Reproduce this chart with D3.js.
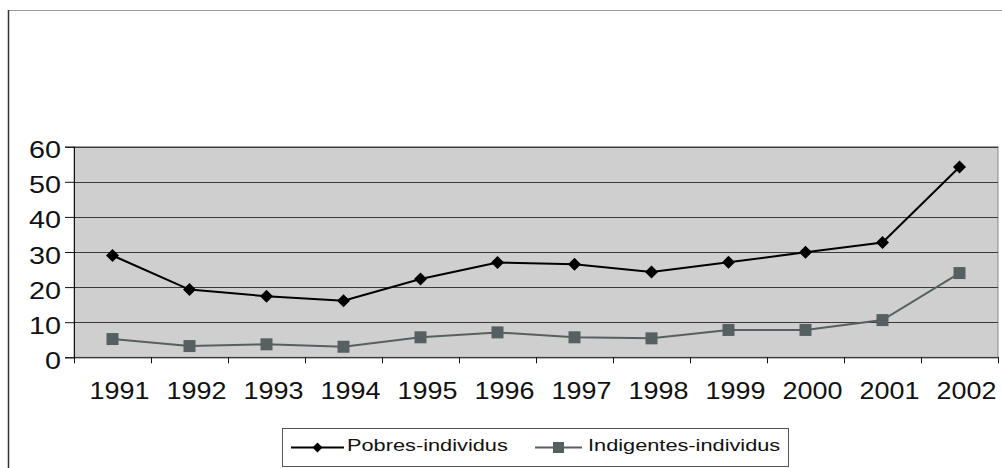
<!DOCTYPE html>
<html>
<head>
<meta charset="utf-8">
<script src="https://cdn.jsdelivr.net/npm/d3@7"></script>
<style>
  html, body { margin: 0; padding: 0; background: #fff; }
  svg { display: block; }
  text { font-family: "Liberation Sans", Arial, sans-serif; fill: #111; }
</style>
</head>
<body>
<svg id="chart" width="1002" height="468"></svg>
<script>
const years = ["1991","1992","1993","1994","1995","1996","1997","1998","1999","2000","2001","2002"];
const pobres = [29, 19.3, 17.4, 16.1, 22.3, 27, 26.5, 24.3, 27.1, 29.9, 32.7, 54.2];
const indigentes = [5.2, 3.2, 3.7, 3.0, 5.7, 7.1, 5.7, 5.4, 7.8, 7.8, 10.6, 24.0];
const yTicks = [0, 10, 20, 30, 40, 50, 60];
const seriesNames = ["Pobres-individus", "Indigentes-individus"];

const svg = d3.select("#chart");
const W = 1002, H = 468;
const plot = { left: 74, right: 998, top: 146.7, bottom: 357.3 };

const x = d3.scaleBand().domain(years).range([plot.left, plot.right]).paddingInner(0).paddingOuter(0);
const y = d3.scaleLinear().domain([0, 60]).range([plot.bottom, plot.top]);

// outer chart border
svg.append("line").attr("x1", 8.5).attr("x2", W).attr("y1", 10.5).attr("y2", 10.5)
  .attr("stroke", "#999").attr("stroke-width", 1);
svg.append("line").attr("x1", 8.5).attr("x2", 8.5).attr("y1", 10).attr("y2", H)
  .attr("stroke", "#333").attr("stroke-width", 1.5);

// plot background
svg.append("rect")
  .attr("x", plot.left).attr("y", plot.top)
  .attr("width", plot.right - plot.left).attr("height", plot.bottom - plot.top)
  .attr("fill", "#cfcfcf").attr("stroke", "#8a8a8a").attr("stroke-width", 1);

// gridlines
svg.append("g").selectAll("line").data(yTicks.filter(d => d > 0)).join("line")
  .attr("x1", plot.left).attr("x2", plot.right)
  .attr("y1", d => Math.round(y(d)) + 0.5).attr("y2", d => Math.round(y(d)) + 0.5)
  .attr("stroke", "#3a3a3a").attr("stroke-width", 1);

// y axis
const yAxis = svg.append("g").attr("transform", `translate(${plot.left},0)`)
  .call(d3.axisLeft(y).tickValues(yTicks).tickSize(9).tickPadding(0));
yAxis.select(".domain").attr("stroke", "#111");
yAxis.selectAll(".tick line").attr("stroke", "#111");
yAxis.selectAll(".tick text")
  .attr("x", -13 / 1.25).attr("y", 11).attr("dy", null)
  .attr("text-anchor", "end")
  .attr("transform", "scale(1.25,1)")
  .style("font-size", "23px").style("font-family", "'Liberation Sans', Arial, sans-serif")
  .attr("fill", "#111");

// x axis: baseline + boundary ticks
const xAxis = svg.append("g").attr("transform", `translate(0,${plot.bottom})`)
  .call(d3.axisBottom(x).tickSize(0).tickPadding(0));
xAxis.select(".domain").attr("stroke", "#111");
xAxis.selectAll(".tick text")
  .attr("y", 41.5).attr("dy", null)
  .attr("transform", "translate(7,0) scale(1.17,1)")
  .style("font-size", "23px").style("font-family", "'Liberation Sans', Arial, sans-serif")
  .attr("fill", "#111");
const bounds = years.map(d => x(d)).concat([x(years[years.length - 1]) + x.bandwidth()]);
xAxis.append("g").selectAll("line").data(bounds).join("line")
  .attr("x1", d => Math.round(d) + 0.5).attr("x2", d => Math.round(d) + 0.5)
  .attr("y1", 0).attr("y2", 6).attr("stroke", "#111");

const cx = d => x(d) + x.bandwidth() / 2;
const diamond = s => `M0,${-s}L${s},0L0,${s}L${-s},0Z`;

// Indigentes series
const indColor = "#566060";
svg.append("path")
  .datum(indigentes)
  .attr("fill", "none").attr("stroke", indColor).attr("stroke-width", 2)
  .attr("d", d3.line().x((d, i) => cx(years[i])).y(d => y(d)));
svg.append("g").selectAll("rect").data(indigentes).join("rect")
  .attr("x", (d, i) => cx(years[i]) - 6).attr("y", d => y(d) - 6)
  .attr("width", 12).attr("height", 12).attr("fill", indColor);

// Pobres series
svg.append("path")
  .datum(pobres)
  .attr("fill", "none").attr("stroke", "#000").attr("stroke-width", 2)
  .attr("d", d3.line().x((d, i) => cx(years[i])).y(d => y(d)));
svg.append("g").selectAll("path").data(pobres).join("path")
  .attr("transform", (d, i) => `translate(${cx(years[i])},${y(d)})`)
  .attr("d", diamond(6.5)).attr("fill", "#000");

// Legend
const lg = svg.append("g");
lg.append("rect").attr("x", 282.5).attr("y", 428.5).attr("width", 506).attr("height", 38)
  .attr("fill", "#fff").attr("stroke", "#555").attr("stroke-width", 1);
const ly = 447.5;
lg.append("line").attr("x1", 291).attr("x2", 344).attr("y1", ly).attr("y2", ly)
  .attr("stroke", "#000").attr("stroke-width", 2);
lg.append("path").attr("transform", `translate(317.5,${ly})`).attr("d", diamond(5)).attr("fill", "#000");
lg.append("text").attr("transform", "translate(347,451) scale(1.28,1)")
  .style("font-size", "17px").text(seriesNames[0]);
lg.append("line").attr("x1", 535).attr("x2", 582).attr("y1", ly).attr("y2", ly)
  .attr("stroke", indColor).attr("stroke-width", 2);
lg.append("rect").attr("x", 553).attr("y", ly - 5.5).attr("width", 11).attr("height", 11).attr("fill", indColor);
lg.append("text").attr("transform", "translate(588,451) scale(1.28,1)")
  .style("font-size", "17px").text(seriesNames[1]);
</script>
</body>
</html>
